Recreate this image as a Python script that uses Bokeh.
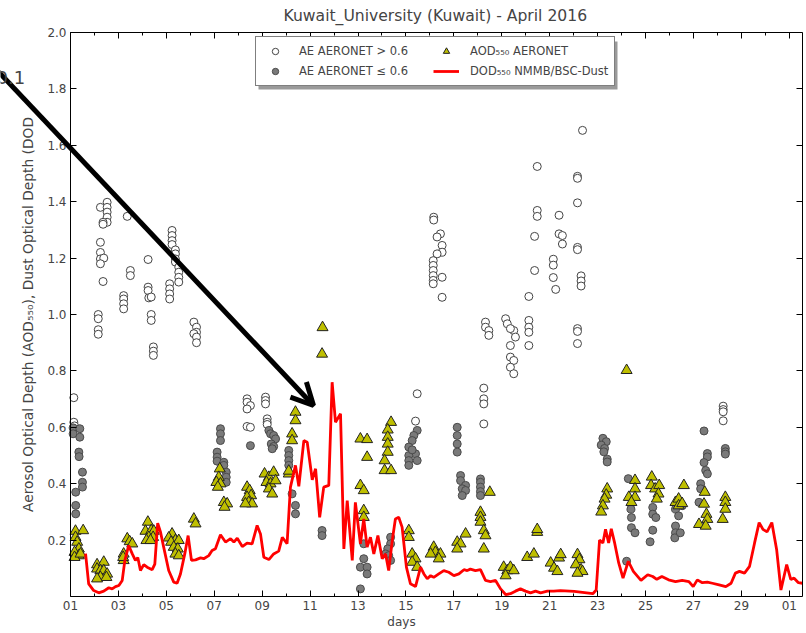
from bokeh.plotting import figure
from bokeh.models import (ColumnDataSource, FixedTicker, LinearAxis, Range1d, Legend,
                          LegendItem, Arrow, OpenHead, Label, BoxAnnotation)
from bokeh.embed import file_html
from bokeh.resources import INLINE

TITLE = "Kuwait_University (Kuwait) - April 2016"
X_LABEL = "days"
Y_LABEL = "Aerosol Optical Depth (AOD\u2085\u2085\u2080), Dust Optical Depth (DOD"
X_TICKS = [0, 2, 4, 6, 8, 10, 12, 14, 16, 18, 20, 22, 24, 26, 28, 30]
X_TICK_LABELS = ["01", "03", "05", "07", "09", "11", "13", "15", "17", "19", "21", "23", "25", "27", "29", "01"]
X_MINOR = list(range(0, 31))
Y_TICKS = [0.2, 0.4, 0.6, 0.8, 1.0, 1.2, 1.4, 1.6, 1.8, 2.0]
Y_TICK_LABELS = ["0.2", "0.4", "0.6", "0.8", "1.0", "1.2", "1.4", "1.6", "1.8", "2.0"]
LEGEND_LABELS = ["AE AERONET > 0.6", "AE AERONET \u2264 0.6",
                 "AOD\u2085\u2085\u2080 AERONET", "DOD\u2085\u2085\u2080 NMMB/BSC-Dust"]
NOTE_TEXT = "0.1"
X_START, X_END = 0.0, 30.55     # data extent of the axes box (days since 01 April)
Y_START, Y_END = 0.0, 2.0
X_VIEW_START = -2.92            # canvas extends left of the box for the overlaid arrow
Y_VIEW_END = 2.0213             # and a little above it so the top tick label is not clipped

# days since 01 April 00 UTC
dod_day = [0.63, 0.76, 0.97, 1.18, 1.39, 1.60, 1.74, 1.88, 2.02, 2.16, 2.27, 2.43, 2.58, 2.71, 2.81,
           2.92, 3.06, 3.20, 3.41, 3.52, 3.64, 3.76, 3.89, 4.10, 4.31, 4.45, 4.59, 4.77, 4.91, 5.05,
           5.22, 5.43, 5.56, 5.77, 5.91, 6.05, 6.26, 6.47, 6.68, 6.82, 6.96, 7.17, 7.37, 7.58, 7.79,
           7.93, 8.07, 8.28, 8.48, 8.69, 8.84, 9.04, 9.18, 9.39, 9.53, 9.74, 9.88, 10.09, 10.23, 10.40,
           10.57, 10.78, 10.92, 11.06, 11.27, 11.41, 11.55, 11.76, 11.89, 12.10, 12.24, 12.38, 12.52,
           12.66, 12.83, 13.01, 13.15, 13.28, 13.43, 13.56, 13.70, 13.84, 14.02, 14.19, 14.40, 14.61,
           14.75, 14.89, 15.03, 15.16, 15.37, 15.58, 15.79, 16.00, 16.21, 16.42, 16.56, 16.69, 16.90,
           17.11, 17.32, 17.53, 17.74, 17.95, 18.16, 18.36, 18.57, 18.78, 18.99, 19.20, 19.41, 19.62,
           19.90, 20.17, 20.45, 21.02, 21.80, 21.94, 22.08, 22.22, 22.33, 22.46, 22.57, 22.71, 22.88,
           23.06, 23.28, 23.49, 23.81, 24.09, 24.30, 24.47, 24.68, 24.96, 25.25, 25.53, 25.81, 25.99,
           26.16, 26.37, 26.58, 26.79, 27.07, 27.35, 27.57, 27.75, 27.92, 28.13, 28.34, 28.55, 28.74,
           28.90, 29.07, 29.27, 29.47, 29.65, 29.89, 30.06, 30.20, 30.38, 30.55]
dod_val = [0.152, 0.045, 0.021, 0.013, 0.019, 0.031, 0.027, 0.035, 0.039, 0.057, 0.128, 0.181, 0.151,
           0.128, 0.138, 0.092, 0.113, 0.104, 0.095, 0.115, 0.260, 0.228, 0.175, 0.092, 0.051, 0.047,
           0.080, 0.151, 0.216, 0.128, 0.130, 0.137, 0.134, 0.145, 0.163, 0.169, 0.219, 0.193, 0.205,
           0.193, 0.207, 0.177, 0.189, 0.187, 0.252, 0.222, 0.139, 0.131, 0.151, 0.161, 0.210, 0.187,
           0.388, 0.465, 0.391, 0.553, 0.547, 0.414, 0.453, 0.281, 0.388, 0.394, 0.760, 0.618, 0.648,
           0.169, 0.340, 0.128, 0.334, 0.187, 0.275, 0.175, 0.210, 0.151, 0.216, 0.134, 0.151, 0.092,
           0.199, 0.275, 0.281, 0.246, 0.104, 0.045, 0.035, 0.104, 0.080, 0.063, 0.074, 0.068, 0.080,
           0.092, 0.086, 0.074, 0.080, 0.095, 0.092, 0.097, 0.092, 0.095, 0.057, 0.053, 0.057, 0.027,
           0.007, 0.010, 0.019, 0.027, 0.019, 0.013, 0.019, 0.013, 0.019, 0.019, 0.021, 0.018, 0.010,
           0.023, 0.200, 0.190, 0.238, 0.190, 0.240, 0.190, 0.119, 0.065, 0.125, 0.089, 0.057, 0.077,
           0.071, 0.061, 0.071, 0.059, 0.053, 0.057, 0.053, 0.035, 0.059, 0.049, 0.051, 0.047, 0.041,
           0.035, 0.047, 0.083, 0.089, 0.083, 0.107, 0.190, 0.262, 0.238, 0.229, 0.262, 0.167, 0.023,
           0.113, 0.061, 0.065, 0.049, 0.047]

ae_high_day = [0.14, 0.14, 0.17,
               1.25, 1.53, 1.53, 1.53, 1.53, 1.53, 1.36, 1.36, 1.25, 1.25, 1.25, 1.39, 1.25, 1.36,
               1.16, 1.16, 1.16, 1.16,
               2.37, 2.50, 2.50, 2.22, 2.22, 2.22, 2.22,
               3.24, 3.24, 3.24, 3.27, 3.37, 3.37, 3.37, 3.46, 3.46, 3.46,
               4.24, 4.24, 4.24, 4.24, 4.38, 4.38, 4.38, 4.38, 4.52, 4.52, 4.52, 4.52, 4.14, 4.14, 4.14, 4.14,
               5.15, 5.26, 5.26, 5.15, 5.26, 5.26,
               7.37, 7.37, 7.51, 7.37, 7.37, 7.51,
               8.14, 8.14, 8.14, 8.21, 8.21, 8.21,
               14.47, 14.40,
               15.16, 15.16, 15.44, 15.30, 15.51, 15.51, 15.30, 15.14, 15.14, 15.14, 15.14, 15.14, 15.14, 15.51, 15.51,
               17.25, 17.25, 17.25, 17.25, 17.32, 17.32, 17.46, 17.46,
               18.16, 18.23, 18.50, 18.36, 18.36, 18.36, 18.50, 18.36, 18.50, 18.57,
               19.13, 19.13, 19.13, 19.13, 19.13,
               19.48, 19.48, 19.48, 19.37, 19.37,
               20.39, 20.39, 20.53, 20.53, 20.15, 20.15, 20.15, 20.25,
               21.16, 21.16, 21.37, 21.16, 21.16, 21.16, 21.31, 21.31, 21.31, 21.16, 21.16, 21.16,
               27.24, 27.24, 27.24, 27.24]
ae_high_val = [0.705, 0.618, 0.605,
               1.380, 1.398, 1.380, 1.363, 1.345, 1.327, 1.327, 1.320, 1.256, 1.220, 1.197, 1.200, 1.180, 1.117,
               1.000, 0.985, 0.946, 0.930,
               1.348, 1.156, 1.138, 1.067, 1.055, 1.038, 1.020,
               1.195, 1.097, 1.085, 1.059, 1.062, 1.000, 0.979, 0.885, 0.870, 0.855,
               1.298, 1.280, 1.262, 1.248, 1.229, 1.215, 1.197, 1.186, 1.168, 1.150, 1.132, 1.115, 1.109, 1.091, 1.073, 1.055,
               0.973, 0.955, 0.937, 0.932, 0.920, 0.900,
               0.701, 0.689, 0.677, 0.665, 0.603, 0.600,
               0.707, 0.695, 0.683, 0.630, 0.618, 0.610,
               0.719, 0.622,
               1.345, 1.335, 1.286, 1.275, 1.245, 1.221, 1.215, 1.191, 1.174, 1.156, 1.138, 1.121, 1.109, 1.132, 1.061,
               0.739, 0.701, 0.683, 0.612, 0.973, 0.955, 0.943, 0.926,
               0.985, 0.967, 0.943, 0.950, 0.890, 0.849, 0.837, 0.813, 0.790, 0.920,
               1.064, 0.979, 0.955, 0.937, 0.890,
               1.525, 1.369, 1.348, 1.277, 1.156,
               1.352, 1.286, 1.280, 1.250, 1.196, 1.175, 1.131, 1.089,
               1.490, 1.483, 1.653, 1.396, 1.238, 1.230, 1.137, 1.119, 1.101, 0.950, 0.940, 0.897,
               0.675, 0.663, 0.655, 0.623]

ae_low_day = [0.11, 0.11, 0.39, 0.39, 0.35, 0.36, 0.50, 0.50, 0.50, 0.22, 0.22, 0.22,
              6.26, 6.26, 6.26, 6.12, 6.12, 6.12, 6.40, 6.40, 6.50, 6.50, 6.50,
              7.51,
              8.28, 8.35, 8.48, 8.56, 8.38, 8.48, 8.42,
              9.11, 9.11, 9.11, 9.11, 9.25, 9.39, 9.39,
              10.50, 10.50,
              12.24, 12.24, 12.10, 12.38, 12.38, 12.10,
              13.36, 13.36, 13.24, 13.15, 13.28, 13.36,
              14.47, 14.33, 14.26, 14.12, 14.40, 14.12, 14.12, 14.47, 14.12, 14.26,
              16.14, 16.14, 16.14, 16.14, 16.28, 16.28, 16.49, 16.35, 16.49, 16.35,
              17.11, 17.11, 17.11, 17.11, 17.11,
              22.22, 22.36, 22.15, 22.29, 22.26, 22.40, 22.40,
              23.21, 23.28, 23.39, 23.41, 23.41, 23.56,
              24.30, 24.30, 24.43, 24.30, 24.19,
              25.25, 25.38, 25.25, 25.25, 25.22, 25.53, 25.45,
              26.44, 26.58, 26.58, 26.44, 26.51, 26.58, 26.30, 26.30, 26.23,
              27.33, 27.33, 27.33]
ae_low_val = [0.598, 0.577, 0.595, 0.565, 0.512, 0.496, 0.441, 0.405, 0.388, 0.370, 0.323, 0.293,
              0.595, 0.577, 0.553, 0.512, 0.494, 0.480, 0.476, 0.465, 0.441, 0.423, 0.405,
              0.535,
              0.589, 0.577, 0.571, 0.559, 0.541, 0.532, 0.524,
              0.518, 0.500, 0.482, 0.465, 0.364, 0.323, 0.293,
              0.234, 0.216,
              0.187, 0.134, 0.104, 0.104, 0.080, 0.027,
              0.210, 0.187, 0.169, 0.151, 0.145, 0.128,
              0.589, 0.571, 0.553, 0.530, 0.506, 0.500, 0.482, 0.482, 0.465, 0.520,
              0.600, 0.571, 0.541, 0.512, 0.429, 0.411, 0.394, 0.382, 0.376, 0.358,
              0.417, 0.405, 0.388, 0.372, 0.358,
              0.561, 0.549, 0.537, 0.525, 0.513, 0.487, 0.477,
              0.125, 0.418, 0.310, 0.280, 0.244, 0.226,
              0.316, 0.292, 0.280, 0.235, 0.194,
              0.310, 0.286, 0.250, 0.226, 0.208, 0.322, 0.226,
              0.587, 0.507, 0.495, 0.475, 0.447, 0.435, 0.400, 0.382, 0.334,
              0.525, 0.513, 0.505]

aod_day = [0.21, 0.21, 0.53, 0.28, 0.35, 0.17, 0.35, 0.17, 0.42,
           1.11, 1.11, 1.39, 1.25, 1.39, 1.53, 1.25, 1.50, 1.11,
           2.37, 2.47, 2.58, 2.22, 2.22, 2.20,
           3.23, 3.13, 3.37, 3.48, 3.27, 3.45, 3.17, 3.34,
           4.24, 4.10, 4.38, 4.20, 4.52, 4.31, 4.48, 4.38, 4.52,
           5.15, 5.22,
           6.23, 6.19, 6.09, 6.26, 6.15, 6.40, 6.54, 6.43,
           7.37, 7.48, 7.54, 7.37, 7.44, 7.58, 7.30,
           8.10, 8.28, 8.48, 8.18, 8.35, 8.56, 8.28, 8.42,
           9.39, 9.39, 9.25, 9.25, 9.11, 9.11,
           10.52, 10.50,
           12.10, 12.38, 12.38, 12.10, 12.24, 12.24, 12.24,
           13.38, 13.24, 13.24, 13.24, 13.24, 13.11, 13.11, 13.38,
           14.12, 14.12, 14.26, 14.40, 14.26, 14.47,
           15.16, 15.23, 15.03, 15.44, 15.37,
           16.14, 16.28, 16.49, 16.14,
           17.50, 17.11, 17.11, 17.11, 17.25, 17.32, 17.25,
           18.08, 18.23, 18.36, 18.50, 18.16,
           19.06, 19.34, 19.48, 19.48,
           20.04, 20.18, 20.39, 20.46, 20.32,
           21.16, 21.24, 21.09, 21.31, 21.37, 21.16,
           22.40, 22.36, 22.29, 22.22, 22.15,
           23.21, 23.56, 23.56, 23.30, 23.56, 23.41,
           24.26, 24.23, 24.40, 24.57, 24.54, 24.47,
           25.60, 25.25, 25.38, 25.38, 25.53,
           26.47, 26.44, 26.54, 26.58, 26.23, 26.51,
           27.33, 27.33, 27.33, 27.22]
aod_val = [0.232, 0.210, 0.234, 0.193, 0.169, 0.157, 0.145, 0.139, 0.151,
           0.113, 0.098, 0.122, 0.092, 0.092, 0.080, 0.068, 0.068, 0.063,
           0.205, 0.195, 0.187, 0.151, 0.128, 0.139,
           0.264, 0.232, 0.234, 0.232, 0.210, 0.210, 0.199, 0.199,
           0.222, 0.208, 0.199, 0.193, 0.199, 0.175, 0.169, 0.151, 0.145,
           0.275, 0.258,
           0.453, 0.423, 0.405, 0.400, 0.388, 0.334, 0.329, 0.317,
           0.388, 0.376, 0.358, 0.352, 0.334, 0.329, 0.329,
           0.435, 0.423, 0.441, 0.405, 0.400, 0.411, 0.382, 0.364,
           0.654, 0.624, 0.577, 0.553, 0.435, 0.445,
           0.954, 0.860,
           0.559, 0.557, 0.494, 0.394, 0.376, 0.305, 0.281,
           0.618, 0.591, 0.565, 0.541, 0.512, 0.482, 0.447, 0.447,
           0.234, 0.210, 0.151, 0.134, 0.122, 0.104,
           0.175, 0.157, 0.151, 0.151, 0.134,
           0.193, 0.187, 0.222, 0.169,
           0.370, 0.299, 0.281, 0.264, 0.234, 0.216, 0.169,
           0.104, 0.092, 0.104, 0.092, 0.074,
           0.139, 0.151, 0.228, 0.238,
           0.119, 0.101, 0.137, 0.149, 0.089,
           0.149, 0.131, 0.113, 0.095, 0.089, 0.083,
           0.382, 0.360, 0.346, 0.322, 0.300,
           0.802, 0.412, 0.382, 0.352, 0.352, 0.334,
           0.424, 0.394, 0.382, 0.394, 0.364, 0.346,
           0.394, 0.334, 0.346, 0.322, 0.330,
           0.370, 0.328, 0.292, 0.274, 0.256, 0.250,
           0.352, 0.334, 0.310, 0.274]

FONT = "DejaVu Sans"

p = figure(width=806, height=633, x_range=Range1d(X_VIEW_START, X_END),
           y_range=Range1d(Y_START, Y_VIEW_END),
           output_backend="svg", toolbar_location=None, title=TITLE,
           min_border_left=0, min_border_right=4, min_border_top=26, min_border_bottom=37)
p.background_fill_color = "white"
p.border_fill_color = "white"
p.outline_line_color = None
p.grid.visible = False

p.title.align = "left"
p.title.offset = 283
p.title.text_font = FONT
p.title.text_font_size = "15.6px"
p.title.text_font_style = "normal"
p.title.standoff = 4

xt = FixedTicker(ticks=X_TICKS, minor_ticks=X_MINOR)
yt = FixedTicker(ticks=Y_TICKS, minor_ticks=[])

xa = p.xaxis[0]
xa.ticker = xt
xa.bounds = (X_START, X_END)
xa.major_label_overrides = {t: l for t, l in zip(X_TICKS, X_TICK_LABELS)}
ya = p.yaxis[0]
ya.ticker = yt
ya.fixed_location = X_START
ya.bounds = (Y_START, Y_END)
ya.major_label_overrides = {t: l for t, l in zip(Y_TICKS, Y_TICK_LABELS)}
xa.axis_label = X_LABEL
ya.axis_label = Y_LABEL
for ax in (xa, ya):
    ax.major_tick_in = 6
    ax.major_tick_out = 0
    ax.minor_tick_in = 3
    ax.minor_tick_out = 0
    ax.major_label_text_font = FONT
    ax.major_label_text_font_size = "12px"
    ax.axis_label_text_font = FONT
    ax.axis_label_text_font_style = "normal"
    ax.axis_line_color = "black"
    ax.major_tick_line_color = "black"
    ax.minor_tick_line_color = "black"
xa.axis_label_text_font_size = "12px"
ya.axis_label_text_font_size = "13.8px"
xa.major_label_standoff = 4
xa.axis_label_standoff = 2
ya.major_label_standoff = 4
ya.axis_label_standoff = 8

top_ax = LinearAxis(ticker=xt, bounds=(X_START, X_END), fixed_location=Y_END,
                    major_label_text_font_size="0px", major_label_standoff=0,
                    major_tick_in=6, major_tick_out=0, minor_tick_in=3, minor_tick_out=0,
                    axis_line_color="black")
p.add_layout(top_ax, "above")
right_ax = LinearAxis(ticker=yt, bounds=(Y_START, Y_END), major_label_text_font_size="0px",
                      major_label_standoff=0, major_tick_in=6, major_tick_out=0,
                      minor_tick_in=3, minor_tick_out=0, axis_line_color="black")
p.add_layout(right_ax, "right")

src_line = ColumnDataSource(dict(x=dod_day, y=dod_val))
src_hi = ColumnDataSource(dict(x=ae_high_day, y=ae_high_val))
src_lo = ColumnDataSource(dict(x=ae_low_day, y=ae_low_val))
src_aod = ColumnDataSource(dict(x=aod_day, y=aod_val))

r_hi = p.scatter("x", "y", source=src_hi, marker="circle", size=8, fill_color="white",
                 line_color="#444444", line_width=1)
r_lo = p.scatter("x", "y", source=src_lo, marker="circle", size=8, fill_color="#7a7a7a",
                 line_color="#4a4a4a", line_width=1)
r_aod = p.scatter("x", "y", source=src_aod, marker="triangle", size=11, fill_color="#bfbf00",
                  line_color="#222222", line_width=1)
r_line = p.line("x", "y", source=src_line, line_color="red", line_width=2.8)

# legend shadow (screen pixels from the frame's bottom-left)
shadow = BoxAnnotation(left=258, right=617, bottom=507, top=555,
                       left_units="screen", right_units="screen",
                       bottom_units="screen", top_units="screen",
                       fill_color="#9a9a9a", fill_alpha=1.0, line_color=None, level="underlay")
p.add_layout(shadow)

legend = Legend(items=[LegendItem(label=LEGEND_LABELS[0], renderers=[r_hi]),
                       LegendItem(label=LEGEND_LABELS[1], renderers=[r_lo]),
                       LegendItem(label=LEGEND_LABELS[2], renderers=[r_aod]),
                       LegendItem(label=LEGEND_LABELS[3], renderers=[r_line])],
                location=(255, 510), ncols=2)
legend.label_text_font = FONT
legend.label_text_font_size = "11.5px"
legend.border_line_color = "black"
legend.border_line_width = 1
legend.background_fill_alpha = 1
legend.padding = 6
legend.spacing = 4
legend.margin = 0
legend.glyph_width = 26
legend.glyph_height = 16
legend.label_height = 16
legend.label_width = 130
legend.label_standoff = 11
p.add_layout(legend, "center")

arrow = Arrow(end=OpenHead(size=22, line_width=5, line_color="black"),
              x_start=-6, y_start=529, x_end=313, y_end=191,
              start_units="screen", end_units="screen", line_width=5, line_color="black",
              level="overlay")
p.add_layout(arrow)
p.add_layout(Label(x=-4, y=519, x_units="screen", y_units="screen", text=NOTE_TEXT,
                   text_font=FONT, text_font_size="18px", text_baseline="alphabetic",
                   level="overlay"))

open("out.html", "w").write(file_html(p, INLINE))
